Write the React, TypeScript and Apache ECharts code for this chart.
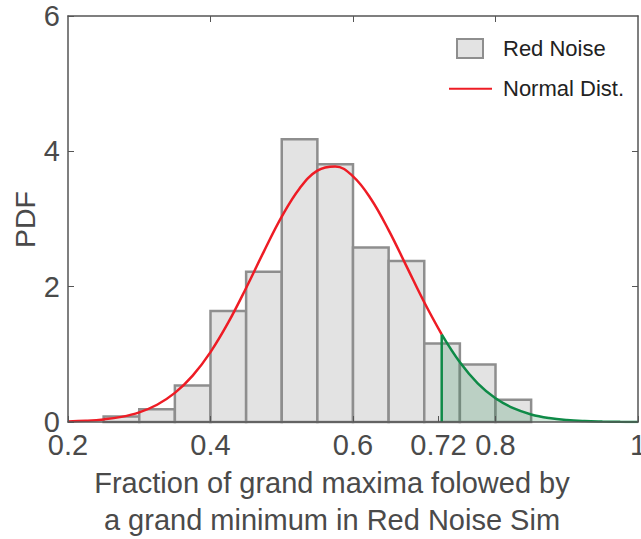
import React, { useEffect, useRef } from "react";
import * as echarts from "echarts";

// Histogram bins (left edge, right edge) and PDF heights
const binStarts = [0.25, 0.3, 0.35, 0.4, 0.45, 0.5, 0.55, 0.6, 0.65, 0.7, 0.75, 0.8];
const binEnds = [0.3, 0.35, 0.4, 0.45, 0.5, 0.55, 0.6, 0.65, 0.7, 0.75, 0.8, 0.85];
const binHeights = [0.08, 0.19, 0.54, 1.64, 2.22, 4.18, 3.81, 2.58, 2.38, 1.16, 0.85, 0.33];

// Normal curve (red part up to 0.7245, green tail after)
const redCurveX = [0.2, 0.225, 0.25, 0.275, 0.3, 0.325, 0.35, 0.375, 0.4, 0.425, 0.45, 0.475, 0.5, 0.525, 0.55, 0.575, 0.6, 0.625, 0.65, 0.675, 0.7, 0.7245];
const redCurveY = [0.008, 0.018, 0.038, 0.076, 0.143, 0.255, 0.43, 0.685, 1.033, 1.471, 1.981, 2.522, 3.034, 3.452, 3.714, 3.777, 3.631, 3.3, 2.836, 2.304, 1.77, 1.294];
const greenCurveX = [0.7245, 0.75, 0.775, 0.8, 0.825, 0.85, 0.875, 0.9, 0.925, 0.95, 0.975, 1.0];
const greenCurveY = [1.294, 0.882, 0.572, 0.351, 0.204, 0.112, 0.058, 0.028, 0.013, 0.006, 0.002, 0.001];
const thresholdX = 0.7245;

const xTickLabels = [0.2, 0.4, 0.6, 0.72, 0.8, 1];
const xTopTicks = [0.4, 0.6, 0.8];
const yTickLabels = [0, 2, 4, 6];
const yRightTicks = [2, 4];

const FONT = "'Liberation Sans', Arial, Helvetica, sans-serif";
const TEXT = "#4a4a4a";
const AXIS = "#555555";

export default function App() {
  const ref = useRef<HTMLDivElement>(null);
  useEffect(() => {
    if (!ref.current) return;
    const chart = echarts.init(ref.current, null, { renderer: "svg" });
    const bars = binStarts.map((s, i) => [s, binEnds[i], binHeights[i]]);
    const red = redCurveX.map((x, i) => [x, redCurveY[i]]);
    const green = greenCurveX.map((x, i) => [x, greenCurveY[i]]);
    chart.setOption({
      animation: false,
      backgroundColor: "#ffffff",
      grid: { left: 68, right: 3, top: 16, bottom: 117, containLabel: false, outerBoundsMode: "none" },
      xAxis: [
        {
          type: "value",
          position: "bottom",
          min: 0.2,
          max: 1,
          z: 10,
          axisLine: { show: true, onZero: false, lineStyle: { color: AXIS, width: 1.5 } },
          axisTick: { show: true, inside: true, length: 6, customValues: xTickLabels, lineStyle: { color: AXIS, width: 1 } },
          axisLabel: {
            customValues: xTickLabels,
            fontSize: 29,
            fontFamily: FONT,
            color: TEXT,
            margin: 8,
            hideOverlap: false,
            formatter: (v: number) => String(Math.round(v * 100) / 100),
          },
          splitLine: { show: false },
        },
        {
          type: "value",
          position: "top",
          min: 0.2,
          max: 1,
          z: 10,
          axisLine: { show: true, onZero: false, lineStyle: { color: AXIS, width: 1.5 } },
          axisTick: { show: true, inside: true, length: 6, customValues: xTopTicks, lineStyle: { color: AXIS, width: 1 } },
          axisLabel: { show: false },
          splitLine: { show: false },
        },
      ],
      yAxis: [
        {
          type: "value",
          position: "left",
          min: 0,
          max: 6,
          interval: 2,
          z: 10,
          axisLine: { show: true, onZero: false, lineStyle: { color: AXIS, width: 1.5 } },
          axisTick: { show: true, inside: true, length: 6, customValues: yTickLabels, lineStyle: { color: AXIS, width: 1 } },
          axisLabel: { customValues: yTickLabels, fontSize: 29, fontFamily: FONT, color: TEXT, margin: 8 },
          splitLine: { show: false },
        },
        {
          type: "value",
          position: "right",
          min: 0,
          max: 6,
          interval: 2,
          z: 10,
          axisLine: { show: true, onZero: false, lineStyle: { color: AXIS, width: 1.5 } },
          axisTick: { show: true, inside: true, length: 6, customValues: yRightTicks, lineStyle: { color: AXIS, width: 1 } },
          axisLabel: { show: false },
          splitLine: { show: false },
        },
      ],
      series: [
        {
          type: "custom",
          name: "Red Noise",
          xAxisIndex: 0,
          yAxisIndex: 0,
          data: bars,
          encode: { x: [0, 1], y: 2 },
          z: 2,
          renderItem: (params: any, api: any) => {
            const p0 = api.coord([api.value(0), api.value(2)]);
            const p1 = api.coord([api.value(1), 0]);
            return {
              type: "rect",
              shape: { x: p0[0], y: p0[1], width: p1[0] - p0[0], height: p1[1] - p0[1] },
              style: { fill: "#e3e3e3", stroke: "#8e8e8e", lineWidth: 2.5 },
            };
          },
        },
        {
          type: "line",
          name: "tail",
          data: green,
          smooth: 0.4,
          showSymbol: false,
          z: 4,
          lineStyle: { color: "#0e8a47", width: 2.5 },
          areaStyle: { color: "rgba(14,128,64,0.27)" },
        },
        {
          type: "line",
          name: "threshold",
          data: [[thresholdX, 0], [thresholdX, greenCurveY[0]]],
          showSymbol: false,
          z: 5,
          lineStyle: { color: "#0e8a47", width: 2.5 },
        },
        {
          type: "line",
          name: "Normal Dist.",
          data: red,
          smooth: 0.4,
          showSymbol: false,
          z: 5,
          lineStyle: { color: "#ee1c25", width: 2.5 },
        },
      ],
      graphic: [
        {
          type: "rect",
          shape: { x: 457, y: 39, width: 26, height: 19 },
          style: { fill: "#e3e3e3", stroke: "#8e8e8e", lineWidth: 2 },
          z: 20,
        },
        {
          type: "text",
          x: 503,
          y: 48.5,
          style: { text: "Red Noise", fontSize: 22, fontFamily: FONT, fill: "#222222", verticalAlign: "middle" },
          z: 20,
        },
        {
          type: "line",
          shape: { x1: 449, y1: 88.7, x2: 492, y2: 88.7 },
          style: { stroke: "#ee1c25", lineWidth: 2 },
          z: 20,
        },
        {
          type: "text",
          x: 503,
          y: 88.7,
          style: { text: "Normal Dist.", fontSize: 22, fontFamily: FONT, fill: "#222222", verticalAlign: "middle" },
          z: 20,
        },
        {
          type: "text",
          x: 25,
          y: 219.5,
          rotation: Math.PI / 2,
          style: { text: "PDF", fontSize: 28.5, fontFamily: FONT, fill: TEXT, align: "center", verticalAlign: "middle" },
        },
        {
          type: "text",
          x: 332,
          y: 483,
          style: { text: "Fraction of grand maxima folowed by", fontSize: 29, fontFamily: FONT, fill: TEXT, align: "center", verticalAlign: "middle" },
        },
        {
          type: "text",
          x: 332,
          y: 520,
          style: { text: "a grand minimum in Red Noise Sim", fontSize: 29, fontFamily: FONT, fill: TEXT, align: "center", verticalAlign: "middle" },
        },
      ],
    });
    return () => chart.dispose();
  }, []);
  return <div ref={ref} style={{ width: 641, height: 539, position: "absolute", left: 0, top: 0 }} />;
}
